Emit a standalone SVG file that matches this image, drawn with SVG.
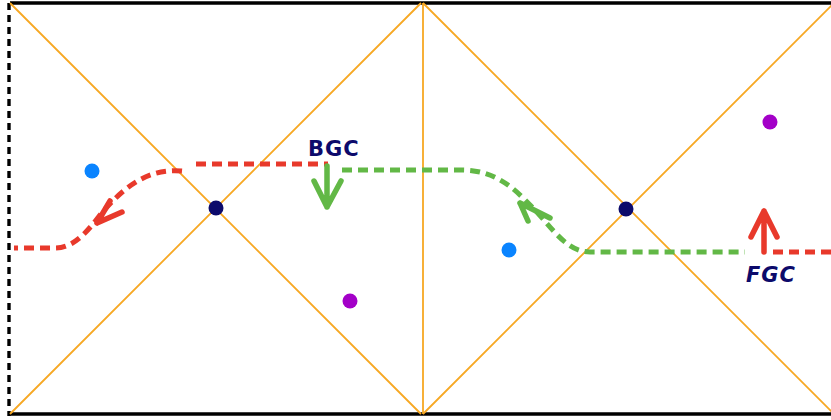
<svg xmlns="http://www.w3.org/2000/svg" width="831" height="420" viewBox="0 0 831 420">
<style>
.grid{stroke:#F7A823;stroke-width:1.8;fill:none}
.red{stroke:#E8392B;stroke-width:5;fill:none;stroke-dasharray:10 6}
.green{stroke:#62B846;stroke-width:5;fill:none;stroke-dasharray:10 6}
.redA{stroke:#E8392B;stroke-width:5.5;fill:none;stroke-linecap:round;stroke-linejoin:round}
.greenA{stroke:#62B846;stroke-width:5.5;fill:none;stroke-linecap:round;stroke-linejoin:round}
.lbl{font-family:"DejaVu Sans",sans-serif;font-weight:bold;fill:#0C0A6B;font-size:21px;letter-spacing:1px}
.navy{fill:#0C0A6B}.blue{fill:#0A84FF}.purple{fill:#A300C8}
</style>
<rect width="831" height="420" fill="#fff"/>
<g id="frame">
<path d="M10 3 H831 M8 414 H831" stroke="#000" stroke-width="3.4" fill="none"/>
<path d="M9 3 V416" stroke="#000" stroke-width="3.4" stroke-dasharray="7 5" fill="none"/>
</g>
<g id="grid">
<path class="grid" d="M10 3 L421 414 M10 414 L421 3 M423 3 V414 M423 3 L834 414 M423 414 L834 3"/>
</g>
<g id="connectors">
<path class="red" d="M831 252 H768"/>
<path class="redA" d="M764 252 V211 M751 237 L764 211 L777 237"/>
<path class="red" d="M196 164 H328"/>
<path class="red" d="M182 171 C150 168 125 185 100 215 C85 235 72 248 55 248 H14"/>
<path class="redA" d="M97 223 L110 201 M97 223 L122 212"/>
<path class="greenA" d="M327 166 V207 M314 181 L327 207 L341 181"/>
<path class="green" d="M342 170 H462 C500 170 520 195 535 210 C555 232 568 252 590 252 H745"/>
<path class="greenA" d="M520 203 L528 221 M520 203 L550 218"/>
</g>
<g id="node-bgc"><text class="lbl" x="308" y="156">BGC</text></g>
<g id="node-fgc"><text class="lbl" x="746" y="282" font-style="italic">FGC</text></g>
<g id="points">
<circle class="navy" cx="216" cy="208" r="7.5"/>
<circle class="navy" cx="626" cy="209" r="7.5"/>
<circle class="blue" cx="92" cy="171" r="7.5"/>
<circle class="blue" cx="509" cy="250" r="7.5"/>
<circle class="purple" cx="350" cy="301" r="7.5"/>
<circle class="purple" cx="770" cy="122" r="7.5"/>
</g>
</svg>
